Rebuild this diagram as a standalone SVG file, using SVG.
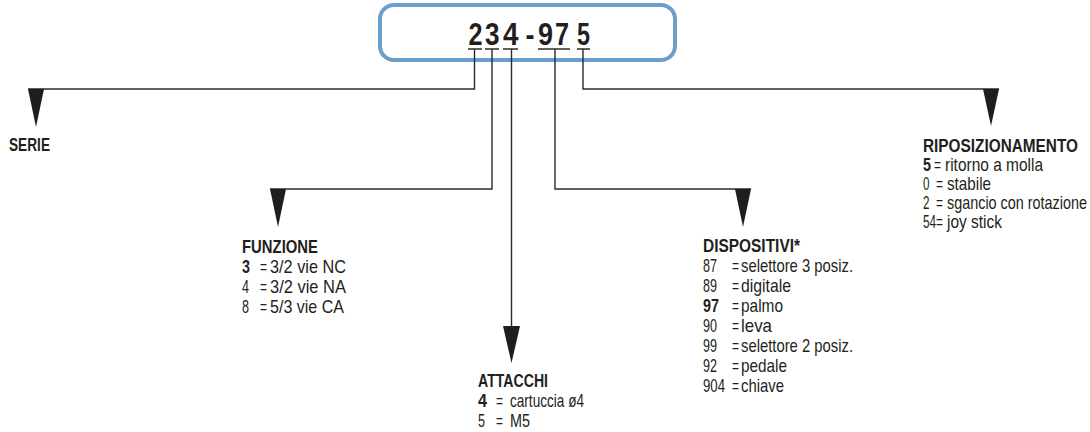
<svg xmlns="http://www.w3.org/2000/svg" width="1090" height="432" viewBox="0 0 1090 432">
<style>
  text { font-family: "Liberation Sans", Arial, sans-serif; fill: #231f20; font-size: 19px; }
  .t, .b { font-weight: bold; }
  .code { font-weight: bold; font-size: 32px; }
  .ln { fill: none; stroke: #2b2b2b; stroke-width: 1.4; }
  .tri { fill: #1e1e1e; }
</style>
<rect width="1090" height="432" fill="#ffffff"/>
<g id="code-box">
  <rect x="380" y="5" width="295" height="55" rx="14" ry="14" fill="#ffffff" stroke="#6d9dca" stroke-width="4"/>
  <text class="code" x="468.5" y="45" textLength="14" lengthAdjust="spacingAndGlyphs">2</text>
  <text class="code" x="485" y="45" textLength="14.5" lengthAdjust="spacingAndGlyphs">3</text>
  <text class="code" x="503" y="45" textLength="15.5" lengthAdjust="spacingAndGlyphs">4</text>
  <text class="code" x="525.5" y="45" textLength="9" lengthAdjust="spacingAndGlyphs">-</text>
  <text class="code" x="538" y="45" textLength="15" lengthAdjust="spacingAndGlyphs">9</text>
  <text class="code" x="555" y="45" textLength="14" lengthAdjust="spacingAndGlyphs">7</text>
  <text class="code" x="577" y="45" textLength="13" lengthAdjust="spacingAndGlyphs">5</text>
</g>
<g id="connectors">
  <path class="ln" d="M468,49H482M485,49H499M503,49H518M538,49H570M577,49H590"/>
  <polyline class="ln" points="474.5,49 474.5,89 28,89"/>
  <polyline class="ln" points="492,49 492,189 270,189"/>
  <polyline class="ln" points="511.5,49 511.5,327"/>
  <polyline class="ln" points="555,49 555,189 751,189"/>
  <polyline class="ln" points="583,49 583,89 999,89"/>
  <polygon class="tri" points="28,89 44,89 36,127"/>
  <polygon class="tri" points="270,189 286,189 278,227"/>
  <polygon class="tri" points="503,326 520,326 511.5,363"/>
  <polygon class="tri" points="735,189 751,189 743,227"/>
  <polygon class="tri" points="983,89 999,89 991,126"/>
</g>
<g id="serie">
  <text class="t" x="9" y="151" textLength="41" lengthAdjust="spacingAndGlyphs">SERIE</text>
</g>
<g id="funzione">
  <text class="t" x="242" y="253" textLength="76" lengthAdjust="spacingAndGlyphs">FUNZIONE</text>
  <text class="b" x="242" y="273" textLength="8" lengthAdjust="spacingAndGlyphs">3</text>
  <text x="260" y="273" textLength="7" lengthAdjust="spacingAndGlyphs">=</text>
  <text x="270" y="273" textLength="76" lengthAdjust="spacingAndGlyphs">3/2 vie NC</text>
  <text x="242" y="293" textLength="7" lengthAdjust="spacingAndGlyphs">4</text>
  <text x="260" y="293" textLength="7" lengthAdjust="spacingAndGlyphs">=</text>
  <text x="270" y="293" textLength="76" lengthAdjust="spacingAndGlyphs">3/2 vie NA</text>
  <text x="242" y="313" textLength="7" lengthAdjust="spacingAndGlyphs">8</text>
  <text x="260" y="313" textLength="7" lengthAdjust="spacingAndGlyphs">=</text>
  <text x="270" y="313" textLength="74" lengthAdjust="spacingAndGlyphs">5/3 vie CA</text>
</g>
<g id="attacchi">
  <text class="t" x="478" y="387" textLength="70" lengthAdjust="spacingAndGlyphs">ATTACCHI</text>
  <text class="b" x="478" y="407" textLength="9" lengthAdjust="spacingAndGlyphs">4</text>
  <text x="496" y="407" textLength="7" lengthAdjust="spacingAndGlyphs">=</text>
  <text x="510" y="407" textLength="74" lengthAdjust="spacingAndGlyphs">cartuccia ø4</text>
  <text x="478" y="427" textLength="7" lengthAdjust="spacingAndGlyphs">5</text>
  <text x="496" y="427" textLength="7" lengthAdjust="spacingAndGlyphs">=</text>
  <text x="510" y="427" textLength="20" lengthAdjust="spacingAndGlyphs">M5</text>
</g>
<g id="dispositivi">
  <text class="t" x="703" y="252" textLength="97" lengthAdjust="spacingAndGlyphs">DISPOSITIVI*</text>
  <text x="703" y="272" textLength="14" lengthAdjust="spacingAndGlyphs">87</text>
  <text x="732" y="272" textLength="7" lengthAdjust="spacingAndGlyphs">=</text>
  <text x="741" y="272" textLength="112" lengthAdjust="spacingAndGlyphs">selettore 3 posiz.</text>
  <text x="703" y="292" textLength="14" lengthAdjust="spacingAndGlyphs">89</text>
  <text x="732" y="292" textLength="7" lengthAdjust="spacingAndGlyphs">=</text>
  <text x="741" y="292" textLength="50" lengthAdjust="spacingAndGlyphs">digitale</text>
  <text class="b" x="703" y="312" textLength="16" lengthAdjust="spacingAndGlyphs">97</text>
  <text x="732" y="312" textLength="7" lengthAdjust="spacingAndGlyphs">=</text>
  <text x="741" y="312" textLength="42" lengthAdjust="spacingAndGlyphs">palmo</text>
  <text x="703" y="332" textLength="14" lengthAdjust="spacingAndGlyphs">90</text>
  <text x="732" y="332" textLength="7" lengthAdjust="spacingAndGlyphs">=</text>
  <text x="741" y="332" textLength="31" lengthAdjust="spacingAndGlyphs">leva</text>
  <text x="703" y="352" textLength="14" lengthAdjust="spacingAndGlyphs">99</text>
  <text x="732" y="352" textLength="7" lengthAdjust="spacingAndGlyphs">=</text>
  <text x="741" y="352" textLength="112" lengthAdjust="spacingAndGlyphs">selettore 2 posiz.</text>
  <text x="703" y="372" textLength="14" lengthAdjust="spacingAndGlyphs">92</text>
  <text x="732" y="372" textLength="7" lengthAdjust="spacingAndGlyphs">=</text>
  <text x="741" y="372" textLength="46" lengthAdjust="spacingAndGlyphs">pedale</text>
  <text x="703" y="392" textLength="22" lengthAdjust="spacingAndGlyphs">904</text>
  <text x="732" y="392" textLength="7" lengthAdjust="spacingAndGlyphs">=</text>
  <text x="741" y="392" textLength="43" lengthAdjust="spacingAndGlyphs">chiave</text>
</g>
<g id="riposizionamento">
  <text class="t" x="923" y="152" textLength="155" lengthAdjust="spacingAndGlyphs">RIPOSIZIONAMENTO</text>
  <text class="b" x="923" y="171" textLength="8" lengthAdjust="spacingAndGlyphs">5</text>
  <text x="934" y="171" textLength="7" lengthAdjust="spacingAndGlyphs">=</text>
  <text x="945" y="171" textLength="98" lengthAdjust="spacingAndGlyphs">ritorno a molla</text>
  <text x="923" y="190" textLength="6.5" lengthAdjust="spacingAndGlyphs">0</text>
  <text x="936" y="190" textLength="7" lengthAdjust="spacingAndGlyphs">=</text>
  <text x="947" y="190" textLength="44" lengthAdjust="spacingAndGlyphs">stabile</text>
  <text x="923" y="209" textLength="6.5" lengthAdjust="spacingAndGlyphs">2</text>
  <text x="936" y="209" textLength="7" lengthAdjust="spacingAndGlyphs">=</text>
  <text x="947" y="209" textLength="140" lengthAdjust="spacingAndGlyphs">sgancio con rotazione</text>
  <text x="923" y="228" textLength="20" lengthAdjust="spacingAndGlyphs">54=</text>
  <text x="947" y="228" textLength="55" lengthAdjust="spacingAndGlyphs">joy stick</text>
</g>
</svg>
